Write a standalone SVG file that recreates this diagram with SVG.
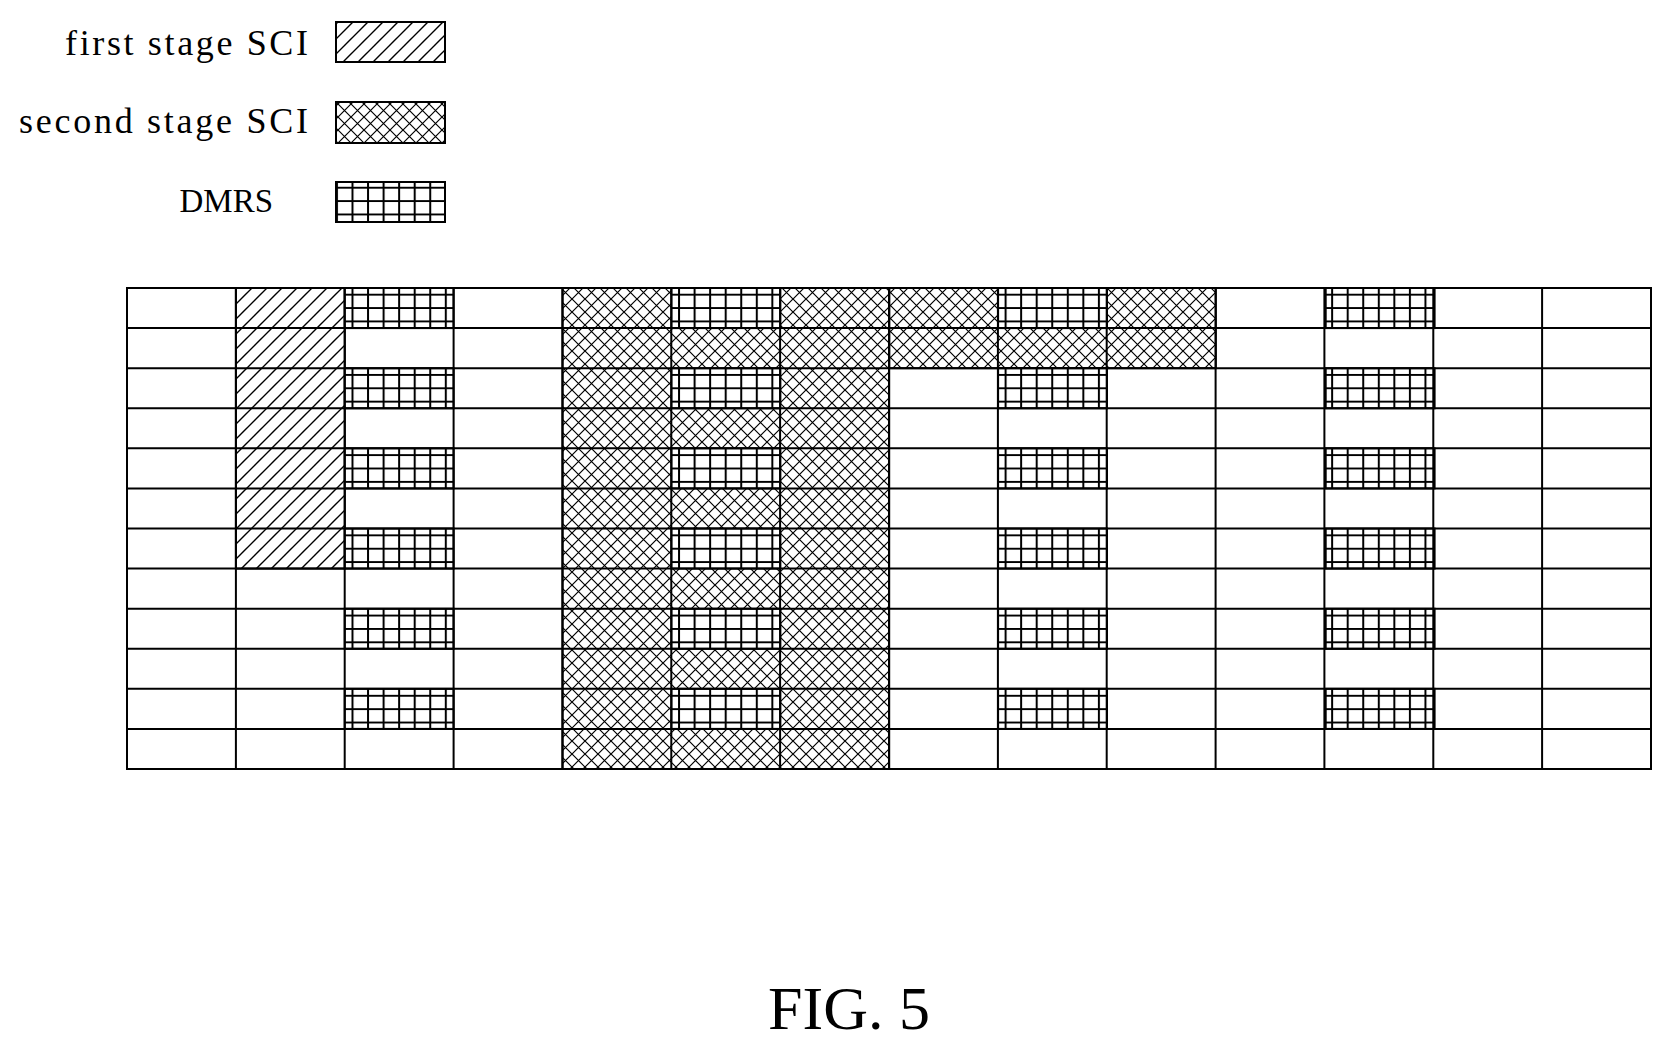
<svg xmlns="http://www.w3.org/2000/svg" width="1673" height="1052" viewBox="0 0 1673 1052">
<style>
text{font-family:"Liberation Serif","Times New Roman",serif;fill:#000}
.g{fill:none;stroke:#000;stroke-width:2}
.d{fill:url(#diag);stroke:#000;stroke-width:2}
.x{fill:url(#cross);stroke:#000;stroke-width:2}
.m{fill:url(#dmrs);stroke:#000;stroke-width:2}
</style>
<defs>
<pattern id="diag" patternUnits="userSpaceOnUse" width="15" height="15">
<path d="M-2,17 L17,-2 M-2,2 L2,-2 M13,17 L17,13" stroke="#000" stroke-width="1.4"/>
</pattern>
<pattern id="cross" patternUnits="userSpaceOnUse" width="13" height="13">
<path d="M0,0 L13,13 M13,0 L0,13" stroke="#000" stroke-width="1.2"/>
</pattern>
<pattern id="dmrs" patternUnits="userSpaceOnUse" width="15.55" height="13.37" x="127" y="288">
<rect width="15.55" height="13.37" fill="#fff"/>
<path d="M7.8,0 V13.37 M0,6.7 H15.55" stroke="#000" stroke-width="2"/>
</pattern>
</defs>
<g id="legend">
<text x="308" y="55" font-size="36" text-anchor="end" textLength="243" lengthAdjust="spacing">first stage SCI</text>
<rect class="d" x="336" y="22" width="109" height="40"/>
<text x="308" y="133" font-size="36" text-anchor="end" textLength="289" lengthAdjust="spacing">second stage SCI</text>
<rect class="x" x="336" y="102" width="109" height="41"/>
<text x="273" y="212" font-size="33" text-anchor="end">DMRS</text>
<rect class="m" x="336" y="182" width="109" height="40"/>
</g>
<g id="grid">
<g id="cells">
<rect class="d" x="235.9" y="288" width="108.9" height="280.6"/>
<rect class="x" x="562.6" y="288" width="326.6" height="481"/>
<rect class="x" x="889.2" y="288" width="326.6" height="80.2"/>
<g id="dmrs-cells">
<rect class="m" x="344.7" y="288" width="108.9" height="40.1"/>
<rect class="m" x="344.7" y="368.2" width="108.9" height="40.1"/>
<rect class="m" x="344.7" y="448.3" width="108.9" height="40.1"/>
<rect class="m" x="344.7" y="528.5" width="108.9" height="40.1"/>
<rect class="m" x="344.7" y="608.7" width="108.9" height="40.1"/>
<rect class="m" x="344.7" y="688.8" width="108.9" height="40.1"/>
<rect class="m" x="671.4" y="288" width="108.9" height="40.1"/>
<rect class="m" x="671.4" y="368.2" width="108.9" height="40.1"/>
<rect class="m" x="671.4" y="448.3" width="108.9" height="40.1"/>
<rect class="m" x="671.4" y="528.5" width="108.9" height="40.1"/>
<rect class="m" x="671.4" y="608.7" width="108.9" height="40.1"/>
<rect class="m" x="671.4" y="688.8" width="108.9" height="40.1"/>
<rect class="m" x="998.1" y="288" width="108.9" height="40.1"/>
<rect class="m" x="998.1" y="368.2" width="108.9" height="40.1"/>
<rect class="m" x="998.1" y="448.3" width="108.9" height="40.1"/>
<rect class="m" x="998.1" y="528.5" width="108.9" height="40.1"/>
<rect class="m" x="998.1" y="608.7" width="108.9" height="40.1"/>
<rect class="m" x="998.1" y="688.8" width="108.9" height="40.1"/>
<rect class="m" x="1325.7" y="288" width="108.9" height="40.1"/>
<rect class="m" x="1325.7" y="368.2" width="108.9" height="40.1"/>
<rect class="m" x="1325.7" y="448.3" width="108.9" height="40.1"/>
<rect class="m" x="1325.7" y="528.5" width="108.9" height="40.1"/>
<rect class="m" x="1325.7" y="608.7" width="108.9" height="40.1"/>
<rect class="m" x="1325.7" y="688.8" width="108.9" height="40.1"/>
</g>
</g>
<g id="lines" class="g">
<rect x="127" y="288" width="1524" height="481"/>
<path d="M235.9,288V769 M344.7,288V769 M453.6,288V769 M562.4,288V769 M671.3,288V769 M780.1,288V769 M889,288V769 M997.9,288V769 M1106.7,288V769 M1215.6,288V769 M1324.4,288V769 M1433.3,288V769 M1542.1,288V769"/>
<path d="M127,328.1H1651 M127,368.2H1651 M127,408.3H1651 M127,448.3H1651 M127,488.4H1651 M127,528.5H1651 M127,568.6H1651 M127,608.7H1651 M127,648.8H1651 M127,688.8H1651 M127,728.9H1651"/>
</g>
</g>
<text x="849" y="1029" font-size="62" text-anchor="middle">FIG. 5</text>
</svg>
